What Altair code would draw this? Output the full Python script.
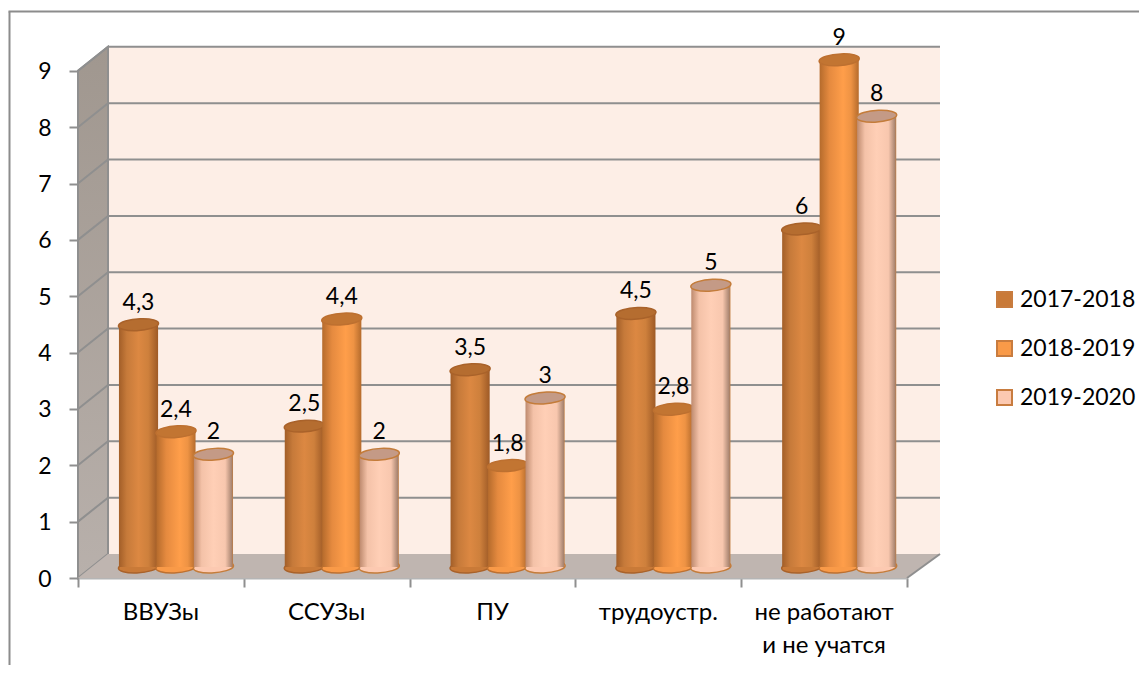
import altair as alt
import pandas as pd

# ---- values
categories = ["ВВУЗы", "ССУЗы", "ПУ", "трудоустр.", "не работают\nи не учатся"]
series_names = ["2017-2018", "2018-2019", "2019-2020"]
values_2017 = [4.3, 2.5, 3.5, 4.5, 6]
values_2018 = [2.4, 4.4, 1.8, 2.8, 9]
values_2019 = [2, 2, 3, 5, 8]
all_values = [values_2017, values_2018, values_2019]
ticks_y = list(range(0, 10))
ticks_x = list(range(0, 6))
heading = "выпускников учебные заведения."

# ---- 3-D box geometry in data units
DEPTH_X = 0.181
DEPTH_Y = 0.426
RIGHT = 5.199
BAR_BASE = 0.195
GROUP_CENTER = 0.591
SERIES_STEP = 0.226
BAR_HALF = 0.118
XDOM = [0, 5]
YDOM = [0, 10.115]

legend_fill = ["#C97A38", "#F99A48", "#FCC9B1"]
top_fill = ["#B56D30", "#C27532", "#C49A86"]
edge = ["#A9622A", "#BD7030", "#C47C3A"]
side_stops = [
    [("#A25E28", 0), ("#C67A3A", 0.2), ("#DC8842", 0.5), ("#CE803C", 0.75), ("#9E5A26", 1)],
    [("#B56B2C", 0), ("#E58A3F", 0.25), ("#FF9E4A", 0.6), ("#EE9344", 0.8), ("#B56B2C", 1)],
    [("#BE8A6E", 0), ("#F4C2A8", 0.2), ("#FFCFB6", 0.5), ("#F8C7AE", 0.8), ("#A88470", 0.97), ("#C07A3C", 1)],
]


def gradient(stops):
    return alt.LinearGradient(
        gradient="linear", x1=0, x2=1, y1=0, y2=0,
        stops=[alt.GradientStop(color=c, offset=o) for c, o in stops],
    )


FONT = "Lato"
GREY = "#8F8F8F"
ELLIPSE = "M-1,0.04 A1,0.29 -4 1 1 1,-0.04 A1,0.29 -4 1 1 -1,0.04 Z"
ELLIPSE_SIZE = 1600

x_axis = alt.Axis(values=ticks_x, labels=False, title=None, grid=False,
                  domainColor="#B5B5B5", domainWidth=2, tickColor=GREY,
                  tickWidth=2, tickSize=9)
y_axis = alt.Axis(values=ticks_y, title=None, grid=False, domain=False,
                  tickColor=GREY, tickWidth=2, tickSize=9, labelPadding=18,
                  labelOffset=1, labelFont=FONT, labelFontSize=23, labelColor="#000000")
x_scale = alt.Scale(domain=XDOM, nice=False, zero=False)
y_scale = alt.Scale(domain=YDOM, nice=False)
X = lambda f: alt.X(f, type="quantitative", scale=x_scale, axis=x_axis)
Y = lambda f: alt.Y(f, type="quantitative", scale=y_scale, axis=y_axis)

# ---- tables
rows = []
for s, name in enumerate(series_names):
    for c, cat in enumerate(categories):
        v = all_values[s][c]
        centre = c + GROUP_CENTER + (s - 1) * SERIES_STEP
        rows.append({
            "series": name, "s": s, "value": v, "top": v + BAR_BASE, "base": BAR_BASE,
            "cx": centre, "x0": centre - BAR_HALF, "x1": centre + BAR_HALF,
            "label": str(v).replace(".", ","),
        })
bars = pd.DataFrame(rows)

back = pd.DataFrame({"x": [DEPTH_X, RIGHT], "y": [DEPTH_Y] * 2, "y2": [9 + DEPTH_Y] * 2})
left = pd.DataFrame({"x": [0, DEPTH_X], "y": [0, DEPTH_Y], "y2": [9, 9 + DEPTH_Y]})
floor = pd.DataFrame({"x": [0, DEPTH_X, 5, RIGHT], "y": [0, 0, 0, DEPTH_Y],
                      "y2": [0, DEPTH_Y, DEPTH_Y, DEPTH_Y]})
grid = pd.DataFrame([
    {"v": v, "x": x, "y": v + d, "o": i}
    for v in ticks_y[1:]
    for i, (x, d) in enumerate([(0, 0), (DEPTH_X, DEPTH_Y), (RIGHT, DEPTH_Y)])
])
cats = pd.DataFrame({"x": [i + 0.5 for i in range(5)], "y": [-0.41] * 5,
                     "t": categories})

# ---- layers
back_layer = alt.Chart(back).mark_area(color="#FDEEE6", orient="vertical").encode(
    x=X("x"), y=Y("y"), y2="y2:Q")
left_layer = alt.Chart(left).mark_area(
    orient="vertical", stroke=GREY, strokeWidth=2,
    color=alt.LinearGradient(gradient="linear", x1=0, x2=0, y1=0, y2=1, stops=[
        alt.GradientStop(color="#A0978F", offset=0),
        alt.GradientStop(color="#B8B0AB", offset=1)]),
).encode(x=X("x"), y=Y("y"), y2="y2:Q")
floor_layer = alt.Chart(floor).mark_area(orient="vertical", color="#BFB5B0").encode(
    x=X("x"), y=Y("y"), y2="y2:Q")
floor_edge = alt.Chart(floor.iloc[2:]).mark_line(color=GREY, strokeWidth=2).encode(
    x=X("x"), y=Y("y"))
grid_layer = alt.Chart(grid).mark_line(color=GREY, strokeWidth=2).encode(
    x=X("x"), y=Y("y"), detail="v:N", order="o:Q")

bar_layers = []
for s, name in enumerate(series_names):
    d = bars[bars.s == s]
    bar_layers.append(alt.Chart(d).mark_point(
        shape=ELLIPSE, size=ELLIPSE_SIZE, filled=True, opacity=1,
        fill=legend_fill[s], stroke=edge[s], strokeWidth=1.5,
    ).encode(x=X("cx"), y=Y("base")))
    bar_layers.append(alt.Chart(d).mark_bar(color=gradient(side_stops[s])).encode(
        x=X("x0"), x2="x1:Q", y=Y("top"), y2="base:Q"))
    bar_layers.append(alt.Chart(d).mark_point(
        shape=ELLIPSE, size=ELLIPSE_SIZE, filled=True, opacity=1,
        fill=top_fill[s], stroke=edge[s], strokeWidth=1.5,
    ).encode(x=X("cx"), y=Y("top")))

labels = alt.Chart(bars).mark_text(
    font=FONT, fontSize=23, color="#000000", baseline="middle", dy=-22,
).encode(x=X("cx"), y=Y("top"), text="label:N")

cat_layer = alt.Chart(cats).mark_text(
    font=FONT, fontSize=24, color="#000000", baseline="top", lineBreak="\n", lineHeight=33,
).encode(x=X("x"), y=Y("y"), text="t:N")

legend_layer = alt.Chart(bars).mark_square(size=0, filled=True).encode(
    x=X("cx"), y=Y("top"),
    color=alt.Color("series:N", scale=alt.Scale(domain=series_names, range=legend_fill),
                    legend=alt.Legend(
                        orient="none", legendX=915, legendY=280, title=None, padding=0,
                        symbolType="square", symbolSize=225, symbolOpacity=1,
                        symbolStrokeColor="#C87C3F", symbolStrokeWidth=2,
                        labelFont=FONT, labelFontSize=23, labelColor="#000000",
                        labelOffset=4, rowPadding=25)),
)

frame_left = alt.Chart(bars.head(1)).mark_rule(color="#8C8C8C", strokeWidth=2).encode(
    x=alt.value(-68.5), y=alt.value(3.5), y2=alt.value(665))
frame_top = alt.Chart(bars.head(1)).mark_rule(color="#8C8C8C", strokeWidth=2).encode(
    x=alt.value(-69.5), x2=alt.value(1069), y=alt.value(3.5))
heading_layer = alt.Chart(pd.DataFrame({"t": [heading]})).mark_text(
    font="Liberation Serif", fontSize=21, color="#000000", align="left", baseline="alphabetic",
).encode(x=alt.value(-71), y=alt.value(-5), text="t:N")

chart = alt.layer(
    back_layer, left_layer, floor_layer, floor_edge, grid_layer,
    *bar_layers, labels, cat_layer, legend_layer, frame_left, frame_top, heading_layer,
).properties(
    width=829, height=570, autosize=alt.AutoSizeParams(type="none"),
    padding={"left": 70, "top": 0, "right": 232, "bottom": 87},
    background="#FFFFFF",
).configure_view(stroke=None)

chart.save("out.html", embed_options={"renderer": "svg", "actions": False})
